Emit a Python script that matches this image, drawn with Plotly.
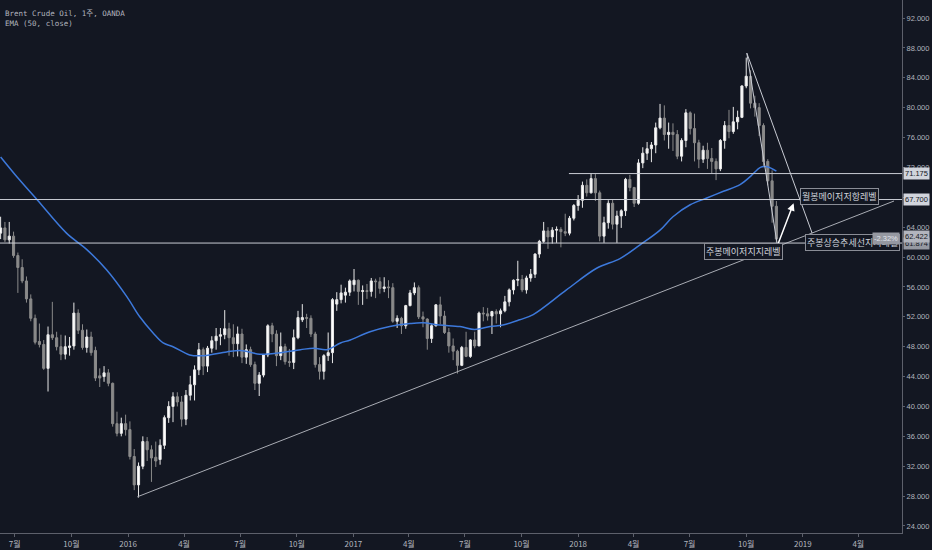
import pandas as pd
import plotly.graph_objects as go

# ---- weekly candles, Brent Crude Oil (OANDA), week of 2015-06-08 .. 2018-11-19 ----
open_ = [
    # 2015
    63.2, 63.9, 62.3, 62.8, 60.2, 58.6, 56.8, 54.4, 51.8, 48.7, 48.3, 45.1, 49.6, 49.2, 48.0,
    47.0, 47.9, 48.1, 52.5, 50.2, 47.9, 49.3, 47.5, 44.1, 44.0, 44.5, 43.1, 37.7, 36.4, 37.7,
    # 2016
    36.9, 33.3, 29.5, 32.0, 35.3, 34.2, 33.2, 32.9, 34.8, 38.5, 40.0, 41.3, 40.6, 38.3, 41.5,
    42.9, 44.9, 47.6, 45.4, 47.8, 48.8, 49.4, 49.6, 50.4, 49.2, 48.4, 49.7, 46.6, 47.6, 45.6,
    43.1, 44.2, 46.9, 50.8, 49.7, 46.8, 48.0, 46.0, 45.9, 49.2, 51.6, 51.9, 51.8, 49.7, 45.6,
    44.7, 46.8, 47.2, 53.7, 54.3, 54.9, 55.3,
    # 2017
    56.3, 56.9, 55.4, 55.5, 55.4, 56.8, 56.7, 55.8, 56.0, 55.9, 51.4, 51.8, 50.8, 53.5, 55.2,
    55.9, 52.0, 51.7, 49.1, 50.8, 53.6, 52.1, 49.9, 48.1, 47.4, 45.5, 47.9, 46.7, 48.9, 48.1,
    52.5, 52.4, 52.1, 52.7, 52.4, 52.8, 54.0, 55.6, 56.9, 57.0, 55.6, 57.2, 57.7, 60.4, 62.1,
    63.5, 62.7, 63.6, 63.7, 63.4, 63.2, 65.2,
    # 2018
    66.9, 67.6, 69.6, 68.6, 70.5, 68.6, 62.8, 64.6, 67.2, 64.4, 65.5, 66.2, 70.4, 69.3, 67.2,
    72.6, 73.9, 74.5, 75.0, 77.3, 78.6, 76.4, 76.7, 76.4, 73.5, 75.6, 79.3, 77.2, 75.3, 73.1,
    74.3, 73.2, 72.8, 71.8, 75.6, 77.6, 76.8, 78.1, 78.7, 82.9, 84.2, 80.6, 80.0, 77.6, 72.8,
    70.2, 66.8,
]
high = [
    65.4, 64.7, 64.7, 63.4, 60.6, 59.7, 57.4, 55.0, 52.3, 51.1, 48.9, 50.7, 54.0, 50.0, 49.6,
    49.5, 49.3, 53.9, 53.0, 51.0, 50.3, 50.0, 48.0, 45.1, 45.4, 45.0, 43.2, 39.3, 38.5, 38.9,
    38.0, 34.3, 32.5, 36.0, 35.9, 34.8, 35.3, 35.6, 38.8, 40.7, 41.9, 41.9, 41.4, 42.2, 44.1,
    45.5, 48.5, 47.9, 48.1, 49.4, 50.5, 50.5, 52.9, 51.2, 51.0, 50.7, 50.4, 48.3, 48.0, 46.0,
    44.6, 47.0, 51.0, 51.2, 50.2, 49.9, 48.4, 47.7, 50.3, 52.8, 53.7, 52.4, 52.2, 50.0, 46.6,
    47.0, 49.9, 54.5, 55.3, 56.3, 55.9, 57.0,
    58.4, 57.0, 56.2, 56.4, 57.2, 57.1, 57.3, 57.3, 56.9, 56.5, 52.2, 52.0, 53.6, 55.6, 56.6,
    56.2, 52.7, 51.8, 51.0, 53.7, 54.7, 52.8, 50.5, 49.1, 47.6, 48.1, 50.0, 49.0, 50.0, 52.7,
    53.3, 53.2, 52.8, 53.0, 53.1, 54.8, 55.8, 57.0, 59.5, 57.6, 57.5, 58.4, 60.5, 62.3, 64.7,
    64.0, 64.0, 64.1, 64.0, 65.8, 65.5, 67.1,
    68.3, 70.1, 70.4, 71.2, 71.1, 68.9, 65.4, 67.6, 67.7, 66.2, 66.4, 70.6, 71.0, 69.4, 73.1,
    74.7, 75.4, 75.4, 78.0, 80.5, 80.3, 78.0, 77.9, 77.0, 75.9, 79.8, 79.5, 79.2, 75.7, 74.9,
    75.3, 74.6, 73.2, 75.8, 78.2, 79.7, 80.1, 79.6, 83.0, 86.7, 85.0, 81.6, 80.6, 77.9, 73.1,
    71.6, 67.5,
]
low = [
    62.4, 62.0, 61.8, 59.9, 55.2, 56.5, 53.9, 51.4, 48.3, 47.9, 44.9, 42.0, 48.9, 47.5, 46.2,
    46.3, 46.8, 47.6, 49.7, 47.6, 47.2, 46.8, 43.4, 42.6, 43.3, 42.7, 37.3, 36.0, 36.0, 36.1,
    32.9, 28.8, 27.8, 31.6, 32.7, 29.9, 31.9, 32.2, 34.3, 37.8, 37.9, 40.0, 37.3, 37.5, 40.8,
    40.8, 44.2, 44.2, 44.6, 47.2, 47.6, 48.2, 49.0, 46.8, 46.6, 46.7, 45.8, 45.7, 45.3, 42.2,
    41.4, 43.9, 46.6, 48.6, 45.4, 46.2, 45.6, 45.3, 45.0, 49.0, 51.3, 50.5, 49.3, 45.2, 43.6,
    43.6, 46.1, 45.8, 52.8, 53.8, 53.9, 54.8,
    55.4, 53.6, 53.6, 54.4, 54.7, 54.5, 55.1, 55.3, 54.5, 51.2, 50.5, 49.7, 50.4, 53.4, 54.9,
    51.7, 50.6, 47.6, 48.5, 50.7, 51.0, 49.7, 47.2, 46.2, 44.4, 45.4, 46.6, 46.5, 47.8, 48.1,
    51.4, 51.5, 49.7, 51.1, 50.6, 52.6, 53.4, 55.0, 56.1, 55.3, 55.1, 56.7, 57.2, 59.9, 61.9,
    61.1, 61.8, 61.9, 61.3, 62.8, 62.9, 64.9,
    66.2, 66.6, 68.1, 68.5, 67.5, 62.1, 61.9, 63.8, 63.7, 61.9, 63.9, 65.5, 68.8, 66.7, 67.0,
    71.9, 73.0, 72.7, 73.9, 77.1, 75.6, 74.5, 74.2, 73.1, 72.8, 74.7, 76.4, 72.8, 71.9, 72.6,
    71.8, 71.2, 70.3, 71.5, 74.5, 75.9, 76.5, 77.1, 78.6, 82.6, 79.9, 78.8, 76.2, 72.2, 69.6,
    64.6, 61.9,
]
close = [
    63.9, 62.3, 62.8, 60.2, 58.6, 56.8, 54.4, 51.8, 48.6, 48.3, 45.1, 49.6, 49.2, 48.0, 47.0,
    48.0, 48.1, 52.5, 50.2, 47.9, 49.3, 47.2, 43.8, 43.8, 44.5, 43.1, 37.7, 36.4, 37.7, 36.9,
    33.3, 29.5, 32.0, 35.3, 34.2, 33.1, 32.7, 34.8, 38.5, 40.0, 41.3, 40.6, 38.3, 41.5, 42.9,
    44.9, 47.6, 45.4, 47.8, 48.8, 49.4, 49.6, 50.4, 49.2, 48.4, 49.7, 46.6, 47.6, 45.6, 43.1,
    44.2, 46.9, 50.8, 49.7, 46.8, 48.0, 46.0, 45.9, 49.2, 51.9, 51.9, 51.8, 49.7, 45.6, 44.7,
    46.8, 47.2, 54.3, 54.3, 55.2, 55.3, 56.8,
    56.9, 55.4, 55.5, 55.4, 56.8, 56.7, 55.8, 56.0, 55.9, 51.4, 51.8, 50.8, 53.5, 55.2, 55.9,
    52.0, 51.7, 49.1, 50.8, 53.6, 52.1, 49.9, 48.1, 47.4, 45.5, 47.9, 46.7, 48.9, 48.1, 52.5,
    52.4, 52.1, 52.7, 52.4, 52.8, 54.0, 55.6, 56.9, 57.0, 55.6, 57.2, 57.7, 60.4, 62.1, 63.5,
    62.7, 63.6, 63.7, 63.4, 63.2, 65.2, 66.9,
    67.6, 69.6, 68.6, 70.5, 68.6, 62.8, 64.6, 67.2, 64.4, 65.5, 66.2, 70.4, 69.3, 67.2, 72.6,
    73.9, 74.5, 75.0, 77.3, 78.6, 76.4, 76.7, 76.4, 73.5, 75.6, 79.3, 77.2, 75.3, 73.1, 74.3,
    73.2, 72.8, 71.8, 75.6, 77.6, 76.8, 78.1, 78.7, 82.9, 84.2, 80.6, 80.0, 77.6, 72.8, 70.2,
    66.8, 62.4,
]
weeks = pd.date_range(end="2018-11-19", periods=len(close), freq="W-MON")

# EMA(50)
ema_dates = ["2015-06-08", "2015-07-09", "2015-08-07", "2015-09-23", "2015-10-26", "2015-11-27",
             "2015-12-30", "2016-01-20", "2016-02-11", "2016-02-27", "2016-03-14", "2016-04-10",
             "2016-05-03", "2016-06-09", "2016-07-02", "2016-08-02", "2016-09-04", "2016-10-07",
             "2016-10-29", "2016-11-19", "2016-12-11", "2016-12-27", "2017-01-28", "2017-03-01",
             "2017-04-03", "2017-04-24", "2017-05-21", "2017-06-23", "2017-07-17", "2017-08-11",
             "2017-09-01", "2017-09-28", "2017-10-20", "2017-12-13", "2018-01-31", "2018-03-10",
             "2018-04-11", "2018-05-14", "2018-06-04", "2018-07-02", "2018-07-29", "2018-08-25",
             "2018-09-21", "2018-10-08", "2018-10-24", "2018-11-04", "2018-11-19"]
ema_vals = [73.4, 70.3, 67.6, 63.2, 61.0, 58.3, 54.7, 52.0, 49.8, 48.5, 48.0, 46.9,
            46.8, 47.3, 47.5, 47.0, 47.2, 47.6, 47.8, 47.6, 48.5, 48.9, 50.0, 50.7,
            51.1, 51.2, 50.9, 50.7, 50.3, 50.7, 50.9, 51.6, 52.3, 55.6, 58.5, 59.8,
            61.6, 63.6, 65.4, 67.0, 67.9, 68.8, 69.7, 70.8, 72.0, 72.1, 71.5]

# drawn levels / lines
resist_month = 67.7
level_high = 71.175
support_week = 61.874
last_price = 62.422
last_change = "-2.32%"
rise_line = (["2016-01-16", "2019-05-29"], [27.9, 67.5])
fall_line = (["2018-10-02", "2019-01-16"], [87.3, 63.2])
drop_line = (["2018-10-02", "2018-11-20"], [87.3, 61.9])

tick_dates = ["2015-07-01", "2015-10-01", "2016-01-01", "2016-04-01", "2016-07-01", "2016-10-01",
              "2017-01-01", "2017-04-01", "2017-07-01", "2017-10-01", "2018-01-01", "2018-04-01",
              "2018-07-01", "2018-10-01", "2019-01-01", "2019-04-01"]
tick_labels = ["7월", "10월", "2016", "4월", "7월", "10월", "2017", "4월", "7월", "10월",
               "2018", "4월", "7월", "10월", "2019", "4월"]
price_ticks = [24, 28, 32, 36, 40, 44, 48, 52, 56, 60, 64, 68, 72, 76, 80, 84, 88, 92]

BG = "#131722"
TXT = "#b2b5be"
LINE = "#c9ccd4"
KR = "Noto Sans CJK KR, Roboto, sans-serif"
NUM = "Liberation Sans, Arial, sans-serif"

fig = go.Figure()

fig.add_trace(go.Candlestick(
    x=weeks, open=open_, high=high, low=low, close=close,
    increasing=dict(line=dict(color="#e8e8e8", width=1), fillcolor="#ffffff"),
    decreasing=dict(line=dict(color="#8a8a8a", width=1), fillcolor="#8a8a8a"),
    showlegend=False,
))
fig.add_trace(go.Scatter(x=ema_dates, y=ema_vals, mode="lines", line_shape="spline",
                         line=dict(color="#3d79db", width=1.5), showlegend=False))

# trend lines
for (xs, ys), col in [(rise_line, "#a9acb4"), (fall_line, LINE), (drop_line, LINE)]:
    fig.add_trace(go.Scatter(x=xs, y=ys, mode="lines", line=dict(color=col, width=1),
                             showlegend=False))

# horizontal levels
fig.add_shape(type="line", xref="paper", x0=0, x1=1, yref="y", y0=resist_month, y1=resist_month,
              line=dict(color=LINE, width=1))
fig.add_shape(type="line", xref="paper", x0=0, x1=1, yref="y", y0=support_week, y1=support_week,
              line=dict(color=LINE, width=1))
fig.add_shape(type="line", xref="x", x0="2017-12-17", x1="2019-06-13", yref="y",
              y0=level_high, y1=level_high, line=dict(color=LINE, width=1))

# arrow
fig.add_annotation(x="2018-12-17", y=67.2, ax="2018-11-21", ay=61.6, xref="x", yref="y",
                   axref="x", ayref="y", text="", showarrow=True, arrowhead=2,
                   arrowsize=1, arrowwidth=1.5, arrowcolor="#ffffff")

# boxed notes
box = dict(showarrow=False, xanchor="left", font=dict(family=KR, size=9, color="#d1d4dc"),
           bgcolor=BG, bordercolor="#8a8d96", borderwidth=1, borderpad=1)
fig.add_annotation(x="2018-12-28", y=68.17, text="월봉메이저저항레벨", **box)
fig.add_annotation(x="2018-07-25", y=60.81, text="주봉메이저지지레벨", **box)
fig.add_annotation(x="2019-01-05", y=62.01, text="주봉상승추세선지지레벨", **box)

# price labels on the right axis
def axis_label(y, text, bg, fg="#131722"):
    fig.add_annotation(xref="paper", x=1, xanchor="left", xshift=1, yref="y", y=y, text=text,
                       showarrow=False, bgcolor=bg, borderpad=1,
                       font=dict(family=NUM, size=7.5, color=fg))

axis_label(level_high, f"{level_high:.3f}", "#d1d4dc")
axis_label(resist_month, f"{resist_month:.3f}", "#d1d4dc")
axis_label(support_week, f"{support_week:.3f}", "#9598a1")
axis_label(last_price + 0.3, f"{last_price:.3f}", "#b2b5be")
fig.add_annotation(xref="paper", x=1, xanchor="right", xshift=-2, yref="y", y=last_price,
                   text=last_change, showarrow=False, bgcolor="#9598a1", borderpad=1,
                   font=dict(family=NUM, size=7.5, color="#e0e3eb"))

# legend text top-left
fig.add_annotation(xref="paper", yref="paper", x=0, y=1, xanchor="left", yanchor="top",
                   xshift=3, yshift=-7, showarrow=False, align="left",
                   text="Brent Crude Oil, 1주, OANDA<br>EMA (50, close)",
                   font=dict(family="DejaVu Sans Mono, Noto Sans CJK KR", size=7.5, color=TXT))

fig.update_layout(
    width=932, height=550,
    margin=dict(l=0, r=30, t=0, b=17),
    paper_bgcolor=BG, plot_bgcolor=BG,
    xaxis=dict(range=["2015-06-07", "2019-06-11"], rangeslider=dict(visible=False),
               tickvals=tick_dates, ticktext=tick_labels, showgrid=False, zeroline=False,
               showline=True, linecolor="#5d606b", ticks="outside", ticklen=3,
               tickcolor="#5d606b", tickfont=dict(family=KR, size=8, color=TXT)),
    yaxis=dict(range=[23.06, 94.41], side="right", tickvals=price_ticks, tickformat=".3f",
               showgrid=False, zeroline=False, showline=True, linecolor="#5d606b",
               ticks="outside", ticklen=2, tickcolor="#5d606b", automargin=False,
               tickfont=dict(family=NUM, size=7.5, color=TXT)),
    hovermode=False,
)

fig.write_html("out.html", config={"displayModeBar": False},
               post_script="document.body.style.margin='0';")
